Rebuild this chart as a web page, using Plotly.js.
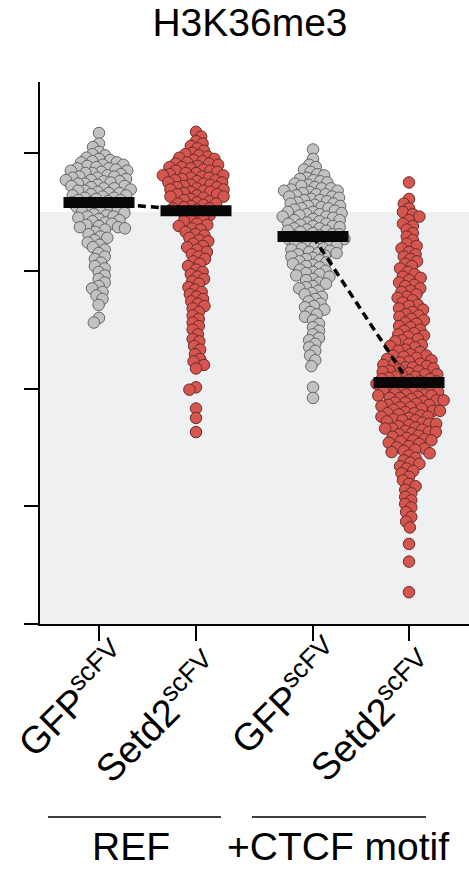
<!DOCTYPE html>
<html>
<head>
<meta charset="utf-8">
<script src="https://cdn.plot.ly/plotly-3.0.1.min.js"></script>
<style>html,body{margin:0;padding:0;background:#fff;}#chart{width:469px;height:875px;}</style>
</head>
<body>
<div id="chart"></div>
<script>
// ---- data (y in arbitrary units, axis ticks at 0..4) ----
const categories = ["GFP<sup>scFV</sup>", "Setd2<sup>scFV</sup>", "GFP<sup>scFV</sup>", "Setd2<sup>scFV</sup>"];
const groupLabels = ["REF", "+CTCF motif"];
const titleText = "H3K36me3";
const medians = [3.58, 3.51, 3.29, 2.05];

const gfpRef = [4.17, 4.08, 4.05, 4.01, 3.99, 3.98, 3.96, 3.95, 3.94, 3.93, 3.92, 3.92, 3.90, 3.90, 3.89, 3.88, 3.87, 3.87, 3.86,
  3.85, 3.85, 3.84, 3.83, 3.83, 3.82, 3.81, 3.80, 3.80, 3.79, 3.79, 3.78, 3.77, 3.77, 3.76, 3.76, 3.75, 3.74, 3.74, 3.73, 3.72,
  3.72, 3.71, 3.70, 3.70, 3.69, 3.68, 3.68, 3.67, 3.66, 3.66, 3.65, 3.64, 3.64, 3.63, 3.62, 3.62, 3.61, 3.60, 3.60, 3.59, 3.58,
  3.58, 3.57, 3.56, 3.56, 3.55, 3.54, 3.54, 3.53, 3.52, 3.51, 3.50, 3.50, 3.49, 3.48, 3.47, 3.46, 3.46, 3.45, 3.44, 3.43, 3.42,
  3.41, 3.40, 3.39, 3.38, 3.37, 3.37, 3.36, 3.35, 3.33, 3.31, 3.29, 3.28, 3.26, 3.24, 3.22, 3.20, 3.18, 3.15, 3.12, 3.10, 3.07,
  3.04, 3.02, 2.99, 2.96, 2.93, 2.90, 2.87, 2.85, 2.82, 2.79, 2.76, 2.71, 2.60, 2.56];

const setd2Ref = [4.18, 4.14, 4.10, 4.08, 4.06, 4.04, 4.02, 4.00, 3.99, 3.98, 3.97, 3.96, 3.95, 3.94, 3.93, 3.92, 3.91, 3.91,
  3.90, 3.89, 3.88, 3.88, 3.87, 3.86, 3.85, 3.85, 3.84, 3.83, 3.83, 3.82, 3.81, 3.81, 3.80, 3.79, 3.79, 3.78, 3.77, 3.77, 3.76,
  3.75, 3.75, 3.74, 3.73, 3.73, 3.72, 3.71, 3.71, 3.70, 3.69, 3.69, 3.68, 3.67, 3.67, 3.66, 3.65, 3.65, 3.64, 3.63, 3.63, 3.62,
  3.61, 3.60, 3.59, 3.58, 3.57, 3.57, 3.56, 3.55, 3.54, 3.53, 3.53, 3.52, 3.50, 3.49, 3.48, 3.47, 3.46, 3.44, 3.43, 3.42, 3.40,
  3.39, 3.38, 3.36, 3.35, 3.33, 3.31, 3.30, 3.28, 3.26, 3.25, 3.23, 3.21, 3.20, 3.18, 3.16, 3.14, 3.12, 3.10, 3.08, 3.06, 3.04,
  3.01, 2.99, 2.97, 2.95, 2.93, 2.91, 2.89, 2.86, 2.84, 2.82, 2.80, 2.78, 2.76, 2.74, 2.72, 2.70, 2.68, 2.65, 2.62, 2.59, 2.56,
  2.53, 2.50, 2.46, 2.42, 2.40, 2.36, 2.33, 2.29, 2.25, 2.23, 2.20, 2.17, 2.01, 1.99, 1.83, 1.75, 1.63];

const gfpCtcf = [4.03, 3.95, 3.90, 3.88, 3.86, 3.84, 3.82, 3.81, 3.79, 3.78, 3.77, 3.76, 3.75, 3.74, 3.73, 3.72, 3.71, 3.70,
  3.70, 3.69, 3.68, 3.68, 3.67, 3.66, 3.65, 3.65, 3.64, 3.63, 3.63, 3.62, 3.61, 3.60, 3.60, 3.59, 3.58, 3.57, 3.57, 3.56, 3.55,
  3.55, 3.54, 3.53, 3.53, 3.52, 3.51, 3.50, 3.50, 3.49, 3.48, 3.48, 3.47, 3.46, 3.46, 3.45, 3.44, 3.43, 3.43, 3.42, 3.41, 3.40,
  3.40, 3.39, 3.38, 3.38, 3.37, 3.36, 3.36, 3.35, 3.34, 3.34, 3.33, 3.32, 3.31, 3.31, 3.30, 3.29, 3.29, 3.28, 3.27, 3.27, 3.26,
  3.25, 3.24, 3.23, 3.23, 3.22, 3.21, 3.20, 3.19, 3.19, 3.18, 3.17, 3.16, 3.15, 3.15, 3.14, 3.13, 3.12, 3.11, 3.10, 3.09, 3.08,
  3.07, 3.06, 3.05, 3.04, 3.03, 3.01, 3.00, 2.99, 2.98, 2.97, 2.96, 2.95, 2.93, 2.92, 2.90, 2.89, 2.87, 2.86, 2.85, 2.83, 2.81,
  2.80, 2.78, 2.76, 2.74, 2.72, 2.70, 2.69, 2.67, 2.65, 2.63, 2.61, 2.58, 2.55, 2.52, 2.49, 2.46, 2.43, 2.41, 2.38, 2.35, 2.32,
  2.28, 2.24, 2.19, 2.01, 1.92];

const setd2Ctcf = [3.75, 3.61, 3.57, 3.53, 3.50, 3.48, 3.46, 3.43, 3.40, 3.38, 3.35, 3.32, 3.29, 3.26, 3.23, 3.21, 3.19, 3.16,
  3.14, 3.12, 3.10, 3.08, 3.06, 3.04, 3.02, 2.99, 2.97, 2.95, 2.94, 2.92, 2.90, 2.88, 2.87, 2.85, 2.83, 2.82, 2.80, 2.78, 2.77,
  2.75, 2.73, 2.71, 2.70, 2.68, 2.67, 2.65, 2.63, 2.62, 2.61, 2.59, 2.58, 2.56, 2.55, 2.53, 2.52, 2.50, 2.49, 2.47, 2.46, 2.45,
  2.44, 2.42, 2.41, 2.40, 2.38, 2.37, 2.36, 2.35, 2.33, 2.32, 2.31, 2.29, 2.28, 2.28, 2.27, 2.26, 2.25, 2.24, 2.23, 2.22, 2.21,
  2.20, 2.20, 2.19, 2.18, 2.18, 2.17, 2.16, 2.15, 2.15, 2.14, 2.13, 2.12, 2.12, 2.11, 2.10, 2.10, 2.09, 2.08, 2.08, 2.07, 2.06,
  2.06, 2.05, 2.04, 2.04, 2.03, 2.02, 2.01, 2.01, 2.00, 1.99, 1.99, 1.98, 1.97, 1.97, 1.96, 1.95, 1.95, 1.94, 1.94, 1.93, 1.92,
  1.92, 1.91, 1.90, 1.90, 1.89, 1.88, 1.88, 1.87, 1.86, 1.86, 1.85, 1.84, 1.84, 1.83, 1.82, 1.81, 1.81, 1.80, 1.79, 1.79, 1.78,
  1.77, 1.76, 1.76, 1.75, 1.74, 1.73, 1.73, 1.72, 1.71, 1.70, 1.70, 1.69, 1.68, 1.67, 1.66, 1.66, 1.65, 1.64, 1.63, 1.63, 1.62,
  1.61, 1.60, 1.59, 1.58, 1.57, 1.56, 1.56, 1.55, 1.54, 1.53, 1.51, 1.50, 1.49, 1.48, 1.47, 1.46, 1.45, 1.43, 1.41, 1.39, 1.37,
  1.36, 1.34, 1.32, 1.30, 1.28, 1.25, 1.22, 1.19, 1.17, 1.14, 1.11, 1.08, 1.05, 1.02, 0.99, 0.95, 0.91, 0.87, 0.82, 0.68, 0.53,
  0.27];

const seriesValues = [gfpRef, setd2Ref, gfpCtcf, setd2Ctcf];

// ---- layout constants ----
const W = 469, H = 875;
const M = {l: 40, r: 0, t: 82, b: 251};
const plotW = W - M.l - M.r, plotH = H - M.t - M.b;
const yMax = 4.603;
const xMax = 4.29;
const xPos = [0.59, 1.56, 2.73, 3.69];
const pxPerY = plotH / yMax, pxPerX = plotW / xMax;
const fills = ["#c2c2c2", "#d5554f", "#c2c2c2", "#d5554f"];
const edges = ["#666666", "#6b2c29", "#666666", "#6b2c29"];
const FONT = "Liberation Sans, Arial, Helvetica, sans-serif";
// centre of each rotated label (pixels, offset from its tick / from page top)
const labelDx = [-27, -39, -28, -37];
const labelCy = [699, 717, 696, 716];

// beeswarm offsets (pixel space)
function swarm(values, d) {
  const order = values.map((v, i) => i).sort((a, b) => values[b] - values[a]);
  const placed = [];
  const offs = new Array(values.length).fill(0);
  let flip = 1;
  for (const i of order) {
    const y = values[i] * pxPerY;
    const cands = [0];
    for (const p of placed) {
      const dy = Math.abs(p.y - y);
      if (dy < d) { const dx = Math.sqrt(d * d - dy * dy); cands.push(p.x + dx, p.x - dx); }
    }
    cands.sort((a, b) => Math.abs(a) - Math.abs(b) || flip * (a - b));
    flip = -flip;
    let chosen = 0;
    for (const c of cands) {
      let ok = true;
      for (const p of placed) {
        const dx = p.x - c, dy = p.y - y;
        if (dx * dx + dy * dy < d * d - 1e-6) { ok = false; break; }
      }
      if (ok) { chosen = c; break; }
    }
    placed.push({x: chosen, y: y});
    offs[i] = chosen;
  }
  return offs;
}

const traces = [];
seriesValues.forEach((vals, g) => {
  const offs = swarm(vals, 7);
  traces.push({
    type: "scatter", mode: "markers",
    x: offs.map(o => xPos[g] + o / pxPerX), y: vals,
    marker: {size: 11.5, color: fills[g], line: {color: edges[g], width: 1}},
    hoverinfo: "skip", showlegend: false, cliponaxis: false
  });
});
// dashed connectors between medians
[[0, 1], [2, 3]].forEach(([a, b]) => {
  traces.push({
    type: "scatter", mode: "lines",
    x: [xPos[a], xPos[b]], y: [medians[a], medians[b]],
    line: {color: "#000", width: 3.5, dash: "8px,5px"},
    hoverinfo: "skip", showlegend: false
  });
});
// median bars
const halfBar = 0.355;
medians.forEach((m, g) => {
  traces.push({
    type: "scatter", mode: "lines",
    x: [xPos[g] - halfBar, xPos[g] + halfBar], y: [m, m],
    line: {color: "#070707", width: 11},
    hoverinfo: "skip", showlegend: false
  });
});

// rotated category labels (centre-anchored)
const catAnn = categories.map((c, g) => ({
  text: c, xref: "x", yref: "paper", x: xPos[g] + labelDx[g] / pxPerX, y: (624 - labelCy[g]) / plotH,
  xanchor: "center", yanchor: "middle", textangle: -45, showarrow: false,
  font: {family: FONT, size: 38, color: "#000"}
}));

const layout = {
  width: W, height: H,
  margin: M,
  paper_bgcolor: "#fff", plot_bgcolor: "#fff",
  font: {family: FONT, color: "#000"},
  title: {text: titleText, font: {family: FONT, size: 39, color: "#000"},
          x: 250 / W, xanchor: "center", xref: "container", y: 1 - 22 / H, yanchor: "middle", yref: "container"},
  xaxis: {range: [0, xMax], showgrid: false, zeroline: false, showline: true, linecolor: "#000", linewidth: 2,
          ticks: "outside", ticklen: 15, tickwidth: 2, tickcolor: "#000",
          tickvals: xPos, showticklabels: false, fixedrange: true},
  yaxis: {range: [0, yMax], showgrid: false, zeroline: false, showline: true, linecolor: "#000", linewidth: 2,
          ticks: "outside", ticklen: 14, tickwidth: 2, tickcolor: "#000",
          tickvals: [0, 1, 2, 3, 4], showticklabels: false, fixedrange: true},
  shapes: [
    {type: "rect", xref: "paper", yref: "y", x0: 0, x1: 1, y0: 0, y1: 3.5, fillcolor: "#eff0f2", line: {width: 0}, layer: "below"},
    {type: "line", xref: "paper", yref: "paper", x0: (48 - 40) / plotW, x1: (221 - 40) / plotW,
     y0: (624 - 817) / plotH, y1: (624 - 817) / plotH, line: {color: "#000", width: 1.5}},
    {type: "line", xref: "paper", yref: "paper", x0: (252 - 40) / plotW, x1: (426 - 40) / plotW,
     y0: (624 - 817) / plotH, y1: (624 - 817) / plotH, line: {color: "#000", width: 1.5}}
  ],
  annotations: catAnn.concat([
    {text: groupLabels[0], xref: "paper", yref: "paper", x: (131 - 40) / plotW, y: (624 - 847) / plotH,
     xanchor: "center", yanchor: "middle", showarrow: false, font: {family: FONT, size: 39, color: "#000"}},
    {text: groupLabels[1], xref: "paper", yref: "paper", x: (338 - 40) / plotW, y: (624 - 847) / plotH,
     xanchor: "center", yanchor: "middle", showarrow: false, font: {family: FONT, size: 39, color: "#000"}}
  ])
};

Plotly.newPlot("chart", traces, layout, {displayModeBar: false, staticPlot: true});
</script>
</body>
</html>
